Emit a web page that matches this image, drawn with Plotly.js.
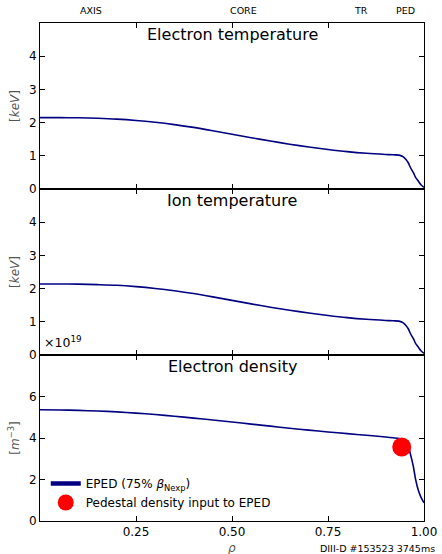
<!DOCTYPE html>
<html>
<head>
<meta charset="utf-8">
<script src="https://cdn.plot.ly/plotly-3.0.1.min.js"></script>
<style>html,body{margin:0;padding:0;background:#fff;}#chart{width:442px;height:554px;}</style>
</head>
<body>
<div id="chart"></div>
<script>
// ---- data ----
const rho = [0, 0.05, 0.1, 0.15, 0.2, 0.25, 0.3, 0.35, 0.4, 0.45, 0.5, 0.55, 0.6, 0.65, 0.7, 0.75, 0.8, 0.85, 0.9, 0.92, 0.935, 0.946, 0.953, 0.959, 0.965, 0.972, 0.978, 0.985, 0.992, 1.0];
const electronTemp = [2.15, 2.15, 2.145, 2.13, 2.105, 2.065, 2.01, 1.94, 1.855, 1.755, 1.65, 1.545, 1.445, 1.35, 1.265, 1.19, 1.125, 1.075, 1.04, 1.03, 1.02, 0.97, 0.89, 0.79, 0.64, 0.50, 0.35, 0.24, 0.13, 0.05];
const ionTemp      = [2.14, 2.14, 2.135, 2.12, 2.10, 2.06, 2.005, 1.935, 1.85, 1.75, 1.645, 1.54, 1.44, 1.35, 1.265, 1.19, 1.125, 1.075, 1.04, 1.03, 1.02, 0.97, 0.89, 0.79, 0.64, 0.50, 0.35, 0.24, 0.13, 0.05];
const electronDensity = [5.36, 5.35, 5.33, 5.30, 5.26, 5.20, 5.13, 5.05, 4.96, 4.87, 4.77, 4.67, 4.57, 4.47, 4.38, 4.29, 4.21, 4.13, 4.05, 4.01, 3.97, 3.88, 3.78, 3.62, 3.20, 2.65, 2.02, 1.49, 1.15, 0.88];
const pedRho = [0.942];
const pedDensity = [3.57];
const regionLabels = ["AXIS", "CORE", "TR", "PED"];
const regionPos = [0.133, 0.529, 0.836, 0.951];
const panelTitles = ["Electron temperature", "Ion temperature", "Electron density"];
const xTickVals = [0.25, 0.5, 0.75, 1.0];
const xTickText = ["0.25", "0.50", "0.75", "1.00"];
const tempTicks = [0, 1, 2, 3, 4];
const densTicks = [0, 2, 4, 6];
const eped = "EPED (75% <i>β</i><sub>Nexp</sub>)";
const pedName = "Pedestal density input to EPED";

const NAVY = "#000080";
const FONT = "DejaVu Sans, sans-serif";

const traces = [
  {x: rho, y: electronTemp, xaxis: "x", yaxis: "y", type: "scatter", mode: "lines",
   line: {color: NAVY, width: 1.6, shape: "spline", smoothing: 0.8}, showlegend: false, hoverinfo: "skip"},
  {x: rho, y: ionTemp, xaxis: "x2", yaxis: "y2", type: "scatter", mode: "lines",
   line: {color: NAVY, width: 1.6, shape: "spline", smoothing: 0.8}, showlegend: false, hoverinfo: "skip"},
  {x: rho, y: electronDensity, xaxis: "x3", yaxis: "y3", type: "scatter", mode: "lines",
   line: {color: NAVY, width: 1.6, shape: "spline", smoothing: 0.8}, showlegend: false, hoverinfo: "skip"},
  {x: [null], y: [null], xaxis: "x3", yaxis: "y3", type: "scatter", mode: "lines",
   name: eped, line: {color: NAVY, width: 4.5}, showlegend: true},
  {x: pedRho, y: pedDensity, xaxis: "x3", yaxis: "y3", type: "scatter", mode: "markers",
   name: pedName, marker: {color: "#ff0000", size: 19, line: {width: 0}}, showlegend: true}
];

function xax(anchor, showLabels) {
  return {
    range: [0, 1], anchor: anchor, showgrid: false, zeroline: false,
    showline: true, linecolor: "#000", linewidth: 1, mirror: "allticks",
    ticks: "inside", ticklen: 5, tickcolor: "#000", tickwidth: 1,
    tickvals: xTickVals, ticktext: xTickText, showticklabels: showLabels,
    tickfont: {family: FONT, size: 12, color: "#000"}
  };
}
function yax(domain, anchor, range, ticks, title) {
  return {
    domain: domain, anchor: anchor, range: range, showgrid: false, zeroline: false,
    showline: true, linecolor: "#000", linewidth: 1, mirror: "allticks",
    ticks: "inside", ticklen: 5, tickcolor: "#000", tickwidth: 1,
    tickvals: ticks, tickfont: {family: FONT, size: 12, color: "#000"},
    title: {text: title, font: {family: FONT, size: 12, color: "#555"}, standoff: 6}
  };
}

const annotations = [];
regionLabels.forEach((t, i) => annotations.push({
  text: t, x: regionPos[i], xref: "x", y: 1, yref: "paper", yshift: 5,
  showarrow: false, xanchor: "center", yanchor: "bottom",
  font: {family: FONT, size: 9.5, color: "#000"}
}));
const titleY = [1, 2/3, 1/3];
panelTitles.forEach((t, i) => annotations.push({
  text: t, x: 0.5, xref: "x", y: titleY[i], yref: "paper", yshift: -11,
  showarrow: false, xanchor: "center", yanchor: "middle",
  font: {family: FONT, size: 16, color: "#000"}
}));
annotations.push({
  text: "×10<sup>19</sup>", x: 0, xref: "paper", xshift: 2, y: 1/3, yref: "paper", yshift: 3,
  showarrow: false, xanchor: "left", yanchor: "bottom",
  font: {family: FONT, size: 12.5, color: "#000"}
});
annotations.push({
  text: "<i>ρ</i>", x: 0.5, xref: "paper", y: 0, yref: "paper", yshift: -27,
  showarrow: false, xanchor: "center", yanchor: "middle",
  font: {family: FONT, size: 12, color: "#555"}
});
annotations.push({
  text: "DIII-D #153523 3745ms", x: 1, xref: "paper", xshift: 13, y: 0, yref: "paper", yshift: -27,
  showarrow: false, xanchor: "right", yanchor: "middle",
  font: {family: FONT, size: 9.5, color: "#000"}
});

const layout = {
  width: 442, height: 554,
  margin: {l: 40, r: 18, t: 23, b: 33},
  paper_bgcolor: "#fff", plot_bgcolor: "#fff",
  font: {family: FONT, color: "#000"},
  xaxis: xax("y", false),
  xaxis2: xax("y2", false),
  xaxis3: xax("y3", true),
  yaxis: yax([2/3, 1], "x", [0, 5], tempTicks, "[<i>keV</i>]"),
  yaxis2: yax([1/3, 2/3], "x2", [0, 5], tempTicks, "[<i>keV</i>]"),
  yaxis3: yax([0, 1/3], "x3", [0, 8], densTicks, "[<i>m</i><sup>−3</sup>]"),
  showlegend: true,
  legend: {x: 0.015, y: 0.008, xanchor: "left", yanchor: "bottom",
           bgcolor: "rgba(0,0,0,0)", borderwidth: 0, tracegroupgap: 0,
           font: {family: FONT, size: 12, color: "#000"}},
  annotations: annotations
};

Plotly.newPlot("chart", traces, layout, {staticPlot: true, displayModeBar: false});
</script>
</body>
</html>
